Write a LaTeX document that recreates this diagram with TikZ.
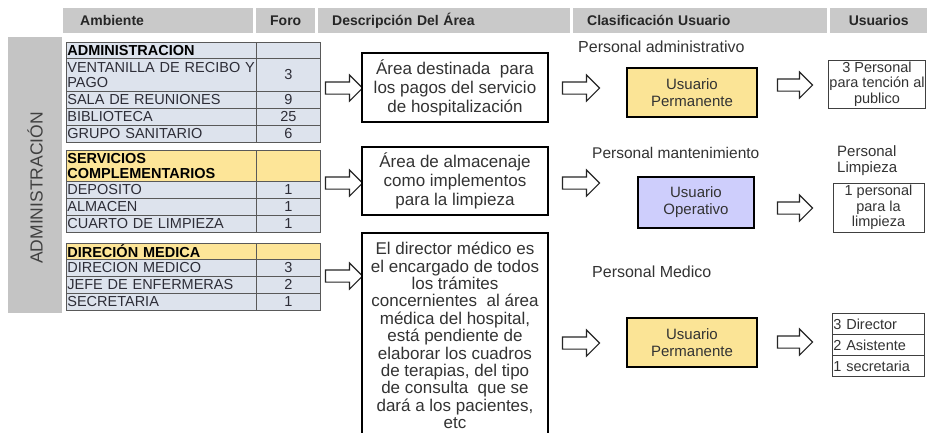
\documentclass[tikz,border=0pt]{standalone}
\usepackage{fontspec}
\setmainfont{Liberation Sans}
\usetikzlibrary{shapes.arrows}
\definecolor{hdrgray}{RGB}{201,201,201}
\definecolor{sidegray}{RGB}{196,196,196}
\definecolor{tblue}{RGB}{221,227,237}
\definecolor{tyellow}{RGB}{253,229,152}
\definecolor{byellow}{RGB}{251,228,150}
\definecolor{blav}{RGB}{206,206,252}
\definecolor{txtgray}{RGB}{64,64,64}
\definecolor{celltxt}{RGB}{45,45,55}
\begin{document}
\begin{tikzpicture}[x=1pt,y=-1pt,
  hdr/.style={fill=hdrgray, anchor=north west, minimum height=25, inner ysep=0pt,
    font=\fontsize{14}{14}\bfseries\selectfont, text=black!85},
  cellL/.style={draw=black!65, line width=0.7pt, fill=tblue, anchor=north west, minimum width=190,
    text width=188, inner xsep=1pt, inner ysep=0pt, align=left,
    font=\fontsize{14.5}{14.5}\selectfont, text=celltxt},
  cellR/.style={draw=black!65, line width=0.7pt, fill=tblue, anchor=north west, minimum width=64,
    text width=60, inner xsep=2pt, inner ysep=0pt, align=center,
    font=\fontsize{14.5}{14.5}\selectfont, text=celltxt},
  headL/.style={cellL, fill=tyellow, font=\fontsize{14.5}{14.5}\bfseries\selectfont, text=black},
  headR/.style={cellR, fill=tyellow},
  descbox/.style={draw=black, line width=1.3pt, fill=white, minimum width=186, align=center,
    inner sep=3pt, font=\fontsize{17}{19}\selectfont, text=black!80},
  blockarrow/.style={single arrow, draw=black!85, fill=white, line width=1.1pt,
    minimum height=37, inner sep=5.5pt, single arrow head extend=7pt},
  perslabel/.style={anchor=west, inner sep=0pt, font=\fontsize{16}{16}\selectfont, text=black!80},
  userbox/.style={draw=black, line width=1.4pt, minimum width=130, minimum height=49, align=center,
    font=\fontsize{15}{17}\selectfont, text=black!80},
  usrbox/.style={draw=black!75, line width=0.8pt, fill=white, minimum width=92, align=center,
    inner sep=1pt, font=\fontsize{14.5}{15.5}\selectfont, text=black!80},
  usrrow/.style={draw=black!75, line width=0.8pt, fill=white, anchor=north west, minimum width=92,
    minimum height=21, text width=90, inner xsep=1pt, inner ysep=0pt, align=left,
    font=\fontsize{14.5}{14}\selectfont, text=black!80}
]
\useasboundingbox (0,0) rectangle (930,432);
\fill[white] (0,0) rectangle (930,432);

% header bar
\node[hdr, minimum width=190, text width=156, inner xsep=17pt, align=left] (hAmb) at (63,8) {Ambiente};
\node[hdr, minimum width=59, align=center] (hForo) at (256,8) {Foro};
\node[hdr, minimum width=252, text width=224, inner xsep=14pt, align=left] (hDesc) at (318,8) {Descripción Del Área};
\node[hdr, minimum width=254, text width=226, inner xsep=14pt, align=left] (hClas) at (573,8) {Clasificación Usuario};
\node[hdr, minimum width=97, align=center] (hUsu) at (830,8) {Usuarios};

% side bar
\node[fill=sidegray, anchor=north west, minimum width=54, minimum height=276, inner sep=0pt] (side) at (8,37) {};
\node[rotate=90, font=\fontsize{17.5}{18}\selectfont, text=txtgray, inner sep=0pt] (sideT) at (35,188) {ADMINISTRACIÓN};

% table 1
\node[cellL, fill=tblue, font=\fontsize{14.5}{14.5}\bfseries\selectfont, text=black, minimum height=16] (a0) at (66,42) {ADMINISTRACION};
\node[cellR, minimum height=16] (a0r) at (256,42) {};
\node[cellL, minimum height=33] (a1) at (66,58) {\mbox{VENTANILLA DE RECIBO Y}\\PAGO};
\node[cellR, minimum height=33] (a1r) at (256,58) {3};
\node[cellL, minimum height=17] (a2) at (66,91) {SALA DE REUNIONES};
\node[cellR, minimum height=17] (a2r) at (256,91) {9};
\node[cellL, minimum height=17] (a3) at (66,108) {BIBLIOTECA};
\node[cellR, minimum height=17] (a3r) at (256,108) {25};
\node[cellL, minimum height=17] (a4) at (66,125) {GRUPO SANITARIO};
\node[cellR, minimum height=17] (a4r) at (256,125) {6};

% table 2
\node[headL, minimum height=31] (b0) at (66,150) {SERVICIOS\\COMPLEMENTARIOS};
\node[headR, minimum height=31] (b0r) at (256,150) {};
\node[cellL, minimum height=17] (b1) at (66,181) {DEPOSITO};
\node[cellR, minimum height=17] (b1r) at (256,181) {1};
\node[cellL, minimum height=17] (b2) at (66,198) {ALMACEN};
\node[cellR, minimum height=17] (b2r) at (256,198) {1};
\node[cellL, minimum height=17] (b3) at (66,215) {CUARTO DE LIMPIEZA};
\node[cellR, minimum height=17] (b3r) at (256,215) {1};

% table 3
\node[headL, minimum height=16] (c0) at (66,243) {DIRECIÓN MEDICA};
\node[headR, minimum height=16] (c0r) at (256,243) {};
\node[cellL, minimum height=17] (c1) at (66,259) {DIRECION MEDICO};
\node[cellR, minimum height=17] (c1r) at (256,259) {3};
\node[cellL, minimum height=17] (c2) at (66,276) {JEFE DE ENFERMERAS};
\node[cellR, minimum height=17] (c2r) at (256,276) {2};
\node[cellL, minimum height=17] (c3) at (66,293) {SECRETARIA};
\node[cellR, minimum height=17] (c3r) at (256,293) {1};

% arrows into descriptions
\node[blockarrow] (la1) at (341,88) {};
\node[blockarrow] (la2) at (341,183) {};
\node[blockarrow] (la3) at (341,276) {};

% description boxes
\node[descbox, minimum height=69] (d1) at (455,87.5) {Área destinada\ \ para\\los\ pagos\ del servicio\\de hospitalización};
\node[descbox, minimum height=68] (d2) at (455,181) {Área de almacenaje\\como implementos\\para la limpieza};
\begin{scope}
\clip (0,0) rectangle (930,432);
\node[descbox, minimum height=205, font=\fontsize{17}{17.4}\selectfont] (d3) at (455,335.5)
  {El director médico es\\el encargado\ de todos\\los trámites\\concernientes\ \ al área\\médica del hospital,\\está pendiente de\\elaborar\ los cuadros\\de terapias,\ del tipo\\de consulta\ \ que se\\dará a los pacientes,\\etc};
\end{scope}

% arrows to classification
\node[blockarrow] (ma1) at (578,88) {};
\node[blockarrow] (ma2) at (578,183) {};
\node[blockarrow] (ma3) at (578,343) {};

% personal labels
\node[perslabel] (p1) at (578,47) {Personal\ administrativo};
\node[perslabel, font=\fontsize{15.5}{16}\selectfont] (p2) at (592,153) {Personal\ mantenimiento};
\node[perslabel] (p3) at (592,272) {Personal\ Medico};

% user type boxes
\node[userbox, fill=byellow] (u1) at (692,92.5) {Usuario\\Permanente};
\node[userbox, fill=blav, minimum width=116, minimum height=51] (u2) at (696,202.5) {Usuario\\Operativo};
\node[userbox, fill=byellow] (u3) at (692,342.5) {Usuario\\Permanente};

% arrows to users
\node[blockarrow, minimum height=35] (ra1) at (792,85) {};
\node[blockarrow, minimum height=35] (ra2) at (792,208) {};
\node[blockarrow, minimum height=35] (ra3) at (792,342) {};

% users
\node[usrbox, minimum height=48] (s1) at (877,84) {3 Personal\\para tención al\\publico};
\node[anchor=north west, inner sep=0pt, align=left, font=\fontsize{15}{16}\selectfont, text=black!80] (pl) at (837,145) {Personal\\Limpieza};
\node[usrbox, minimum height=49, minimum width=91] (s2) at (878.5,207.5) {1 personal\\para la\\limpieza};
\node[usrrow] (t1) at (832,313) {3 Director};
\node[usrrow] (t2) at (832,334) {2 Asistente};
\node[usrrow] (t3) at (832,355) {1 secretaria};
\end{tikzpicture}
\end{document}
